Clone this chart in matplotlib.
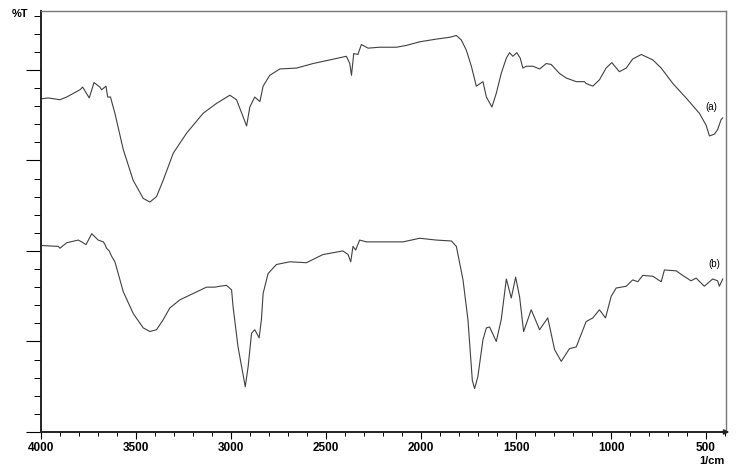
import numpy as np
import matplotlib.pyplot as plt
from matplotlib.ticker import MultipleLocator

# spectrum (a)
wn_a = [4000, 3962, 3900, 3865, 3795, 3781, 3746, 3721, 3690, 3681, 3658, 3649, 3634, 3628,
        3611, 3567, 3515, 3462, 3427, 3392, 3357, 3304, 3234, 3147, 3076, 3006, 2971, 2936,
        2918, 2901, 2875, 2848, 2831, 2796, 2743, 2655, 2568, 2480, 2393, 2375, 2366, 2354,
        2332, 2314, 2279, 2218, 2130, 2077, 2007, 1919, 1849, 1814, 1788, 1762, 1735, 1709,
        1674, 1656, 1627, 1604, 1578, 1551, 1534, 1517, 1496, 1478, 1464, 1446, 1411, 1376,
        1341, 1315, 1271, 1236, 1183, 1140, 1131, 1096, 1061, 1026, 996, 956, 920, 886,
        841, 780, 736, 675, 605, 535, 500, 482, 456, 439, 421, 412]
t_a = [36.8, 36.9, 36.7, 37.0, 37.8, 38.1, 36.9, 38.6, 38.1, 37.8, 38.2, 37.0, 37.0, 36.5,
       35.2, 31.2, 27.8, 25.8, 25.4, 26.0, 27.8, 30.8, 33.0, 35.2, 36.3, 37.2, 36.7, 34.8,
       33.8, 35.9, 37.0, 36.5, 38.2, 39.4, 40.1, 40.2, 40.7, 41.1, 41.5, 40.7, 39.4, 41.8,
       41.7, 42.8, 42.4, 42.5, 42.5, 42.7, 43.1, 43.4, 43.6, 43.8, 43.3, 42.2, 40.4, 38.2,
       38.7, 37.0, 35.9, 37.4, 39.6, 41.3, 41.9, 41.5, 41.9, 41.3, 40.2, 40.4, 40.4, 40.1,
       40.7, 40.6, 39.6, 39.1, 38.7, 38.7, 38.5, 38.2, 38.9, 40.2, 40.8, 39.8, 40.2, 41.2,
       41.7, 41.1, 40.2, 38.5, 36.9, 35.2, 33.9, 32.7, 32.9, 33.4, 34.5, 34.7]

# spectrum (b)
wn_b = [4000, 3909, 3900, 3865, 3804, 3786, 3763, 3733, 3699, 3672, 3663, 3655, 3641, 3628,
        3611, 3567, 3515, 3462, 3427, 3392, 3357, 3322, 3269, 3199, 3129, 3085, 3059, 3024,
        2997, 2989, 2963, 2925, 2910, 2892, 2875, 2852, 2840, 2831, 2805, 2761, 2691, 2603,
        2516, 2411, 2384, 2370, 2358, 2344, 2323, 2287, 2218, 2130, 2095, 2007, 1919, 1840,
        1814, 1779, 1753, 1730, 1718, 1701, 1674, 1656, 1639, 1604, 1578, 1551, 1525, 1502,
        1481, 1460, 1420, 1376, 1333, 1297, 1262, 1219, 1183, 1131, 1096, 1061, 1029, 999,
        973, 920, 886, 859, 833, 780, 736, 719, 657, 623, 579, 552, 509, 465, 439, 430, 412]
t_b = [20.6, 20.5, 20.3, 20.9, 21.2, 21.0, 20.7, 21.9, 21.2, 21.0, 20.7, 20.3, 20.0, 19.4,
       18.8, 15.5, 13.1, 11.5, 11.1, 11.3, 12.4, 13.7, 14.6, 15.3, 16.0, 16.0, 16.1, 16.2,
       15.7, 13.8, 9.4, 5.0, 7.2, 10.9, 11.3, 10.4, 12.4, 15.3, 17.5, 18.5, 18.8, 18.7,
       19.6, 20.0, 19.6, 18.8, 20.5, 20.1, 21.2, 21.0, 21.0, 21.0, 21.0, 21.4, 21.2, 21.1,
       20.5, 16.8, 12.4, 5.7, 4.8, 6.1, 10.2, 11.5, 11.6, 10.0, 12.4, 16.9, 14.8, 17.1,
       14.9, 11.1, 13.5, 11.3, 12.6, 9.1, 7.8, 9.2, 9.4, 12.2, 12.6, 13.5, 12.6, 15.0,
       15.9, 16.1, 16.8, 16.6, 17.3, 17.2, 16.6, 17.9, 17.8, 17.3, 16.7, 17.0, 16.1, 16.9,
       16.7, 16.1, 16.9]

xticks = [4000, 3500, 3000, 2500, 2000, 1500, 1000, 500]

plt.rcParams['font.family'] = ['Liberation Sans', 'DejaVu Sans']

fig = plt.figure(figsize=(7.36, 4.71), dpi=100)
ax = fig.add_axes([0.0557, 0.0828, 0.9307, 0.8938])

ax.plot(wn_a, t_a, color='#404040', lw=0.8)
ax.plot(wn_b, t_b, color='#404040', lw=0.8)

ax.set_xlim(4000, 395)
ax.set_ylim(0, 46.5)

ax.set_xticks(xticks)
ax.set_xticklabels([str(v) for v in xticks], fontsize=8.5, fontweight='bold')
ax.xaxis.set_minor_locator(MultipleLocator(100))
ax.yaxis.set_major_locator(MultipleLocator(10))
ax.yaxis.set_minor_locator(MultipleLocator(2))
ax.set_yticklabels([])
ax.tick_params(axis='x', which='major', length=5, width=0.8, pad=2, direction='out')
ax.tick_params(axis='x', which='minor', length=3, width=0.7, direction='out')
ax.tick_params(axis='y', which='major', length=11, width=0.8, direction='out')
ax.tick_params(axis='y', which='minor', length=5, width=0.7, direction='out')

for s in ['left', 'bottom']:
    ax.spines[s].set_linewidth(1.4)
    ax.spines[s].set_color('#222222')
for s in ['top', 'right']:
    ax.spines[s].set_linewidth(1.0)
    ax.spines[s].set_color('#777777')

# axis arrow beyond the right edge
ax.annotate('', xy=(1.009, 0), xycoords='axes fraction', xytext=(0.99, 0),
            arrowprops=dict(arrowstyle='-|>', color='#222222', lw=1.2, mutation_scale=7),
            annotation_clip=False)

ax.text(473, 35.9, '(a)', fontsize=7, ha='center', va='center')
ax.text(456, 18.6, '(b)', fontsize=7, ha='center', va='center')

fig.text(0.016, 0.970, '%T', fontsize=8, fontweight='bold', ha='left', va='center')
fig.text(0.985, 0.021, '1/cm', fontsize=8, fontweight='bold', ha='right', va='center')

fig.savefig('out.png', dpi=100)
